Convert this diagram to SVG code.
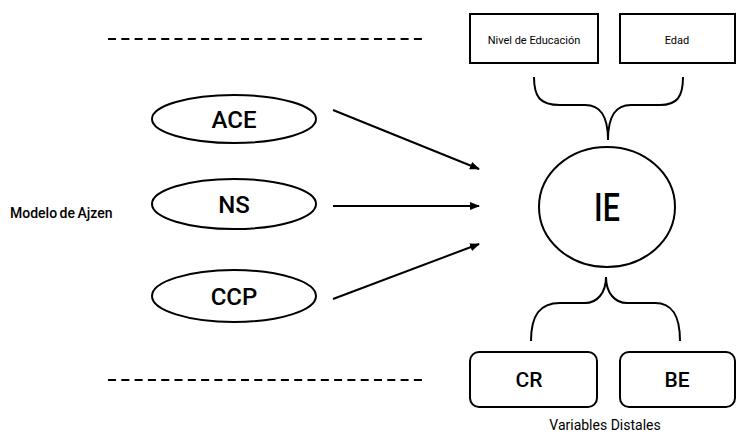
<svg xmlns="http://www.w3.org/2000/svg" width="738" height="435" viewBox="0 0 738 435">
<defs>
<style>
.t{font-family:"Roboto","Liberation Sans",sans-serif;fill:#000;text-anchor:middle}
.b{font-weight:500}
.shape{fill:#fff;stroke:#000;stroke-width:2}
.ln{fill:none;stroke:#000;stroke-width:2}
.dash{stroke:#000;stroke-width:2;stroke-dasharray:8 5.3}
</style>
<marker id="ah" viewBox="0 0 10 10" refX="9" refY="5" markerWidth="5" markerHeight="5" orient="auto" markerUnits="strokeWidth">
<path d="M0,1 L10,5 L0,9 z" fill="#000"/>
</marker>
</defs>
<rect width="738" height="435" fill="#fff"/>
<line class="dash" x1="108" y1="39" x2="424" y2="39"/>
<line class="dash" x1="108" y1="380" x2="424" y2="380"/>
<text class="t b" x="10" y="218" font-size="14" style="text-anchor:start;word-spacing:-1px">Modelo de Ajzen</text>
<g id="ace"><ellipse class="shape" cx="234" cy="119" rx="82" ry="24"/><text class="t b" x="234" y="127.5" font-size="24">ACE</text></g>
<g id="ns"><ellipse class="shape" cx="234" cy="204" rx="82" ry="25"/><text class="t b" x="234" y="212.5" font-size="24">NS</text></g>
<g id="ccp"><ellipse class="shape" cx="234" cy="296" rx="82" ry="26"/><text class="t b" x="234" y="304.5" font-size="24">CCP</text></g>
<g id="ie"><ellipse class="shape" cx="607" cy="207" rx="68" ry="60"/><text class="t b" x="607" y="221" font-size="39" transform="translate(607 0) scale(0.78 1) translate(-607 0)">IE</text></g>
<g id="nivel"><rect class="shape" x="470" y="14" width="128" height="49"/><text class="t" x="534" y="44" font-size="11">Nivel de Educación</text></g>
<g id="edad"><rect class="shape" x="620" y="14" width="115" height="49"/><text class="t" x="677" y="44" font-size="11">Edad</text></g>
<g id="cr"><rect class="shape" x="470" y="352" width="127" height="55" rx="9"/><text class="t b" x="529" y="387" font-size="21">CR</text></g>
<g id="be"><rect class="shape" x="620" y="352" width="115" height="55" rx="9"/><text class="t b" x="677" y="387" font-size="21">BE</text></g>
<text class="t" x="605" y="430" font-size="14">Variables Distales</text>
<g id="connectors">
<path class="ln" d="M534,77 C534,97 540,105 560,105 L585,105 C600,105 608,115 608,140 C608,115 616,105 631,105 L660,105 C677,105 683,97 683,77"/>
<path class="ln" d="M531,341 C531,315 540,303 560,303 L585,303 C597,303 606,293 606,277 C606,293 615,303 627,303 L655,303 C672,303 680,315 680,341"/>
<line class="ln" x1="333" y1="110" x2="479" y2="169" marker-end="url(#ah)"/>
<line class="ln" x1="333" y1="206" x2="479" y2="206" marker-end="url(#ah)"/>
<line class="ln" x1="333" y1="299" x2="479" y2="244" marker-end="url(#ah)"/>
</g>
</svg>
